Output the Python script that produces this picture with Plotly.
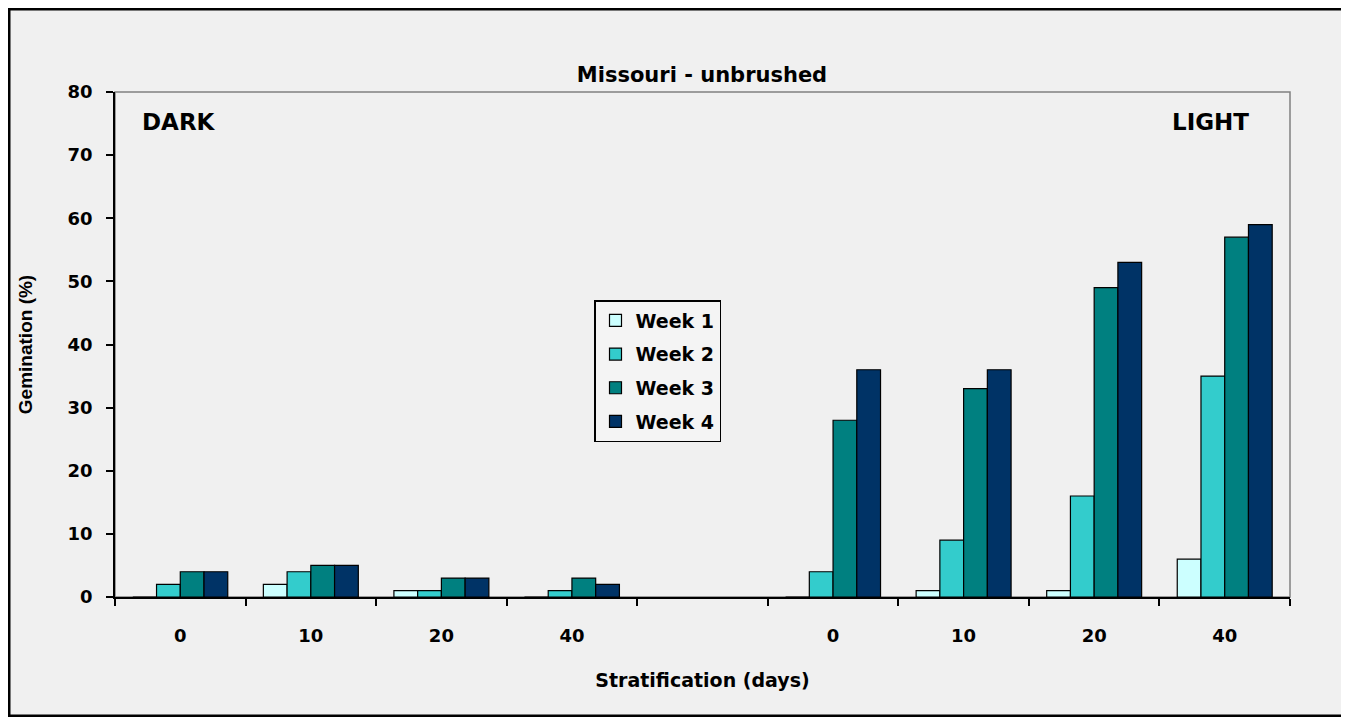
import plotly.graph_objects as go

categories = ["0", "10", "20", "40", "", "0", "10", "20", "40"]
series_names = ["Week 1", "Week 2", "Week 3", "Week 4"]
week1 = [0, 2, 1, 0, None, 0, 1, 1, 6]
week2 = [2, 4, 1, 1, None, 4, 9, 16, 35]
week3 = [4, 5, 3, 3, None, 28, 33, 49, 57]
week4 = [4, 5, 3, 2, None, 36, 36, 53, 59]
colors = ["#CCFFFF", "#33CCCC", "#008080", "#003366"]

# page body has an 8px margin; reference coordinates are shifted by it
OX, OY = 8, 8
W, H = 1337, 709
L, R, T, B = 115 - OX, 1290 - OX, 92 - OY, 597 - OY
pw, ph = R - L, B - T


def px(x):
    return (x - OX - L) / pw


def py(y):
    return (B - (y - OY)) / ph


BG = "#F0F0F0"
FONT = "DejaVu Sans"

xs = list(range(len(categories)))
fig = go.Figure()
for name, vals, col in zip(series_names, [week1, week2, week3, week4], colors):
    fig.add_trace(go.Bar(
        x=xs, y=vals, name=name, legendgroup=name,
        marker=dict(color=col, line=dict(color="#000000", width=1.2)),
    ))

fig.update_layout(
    width=W, height=H,
    margin=dict(l=L, r=W - R, t=T, b=H - B, autoexpand=False),
    paper_bgcolor=BG, plot_bgcolor=BG,
    barmode="group", bargap=0.2727, bargroupgap=0,
    font=dict(family=FONT, size=18, color="#000000", weight="bold"),
    title=dict(text="Missouri - unbrushed", x=px(702), xref="paper", xanchor="center",
               y=1 - (75 - OY) / H, yanchor="middle",
               font=dict(family=FONT, size=21, weight="bold")),
    showlegend=True,
    legend=dict(x=px(594), y=py(300), xanchor="left", yanchor="top",
                bgcolor="#F4F4F4", bordercolor="#000000", borderwidth=1.5,
                traceorder="grouped", tracegroupgap=6,
                font=dict(family=FONT, size=19, weight="bold")),
    xaxis=dict(
        range=[-0.5, len(categories) - 0.5],
        tickmode="array", tickvals=xs, ticktext=categories, ticks="",
        ticklabelstandoff=22,
        minor=dict(tickmode="array", tickvals=[i - 0.5 for i in range(len(categories) + 1)],
                   ticks="outside", ticklen=7, tickcolor="#000000", tickwidth=1.5),
        showline=True, linecolor="#000000", linewidth=1.5,
        showgrid=False, zeroline=False,
        tickfont=dict(family=FONT, size=18, weight="bold"),
        title=dict(text="Stratification (days)", standoff=28,
                   font=dict(family=FONT, size=19, weight="bold")),
    ),
    yaxis=dict(
        range=[0, 80], dtick=10, ticks="outside", ticklen=7, tickwidth=1.5,
        tickcolor="#000000", ticklabelstandoff=10,
        showline=True, linecolor="#000000", linewidth=1.5,
        showgrid=False, zeroline=False,
        tickfont=dict(family=FONT, size=18, weight="bold"),
        title=dict(text="Gemination (%)", standoff=30,
                   font=dict(family="Liberation Sans Narrow, Liberation Sans", size=19, weight="bold")),
    ),
    shapes=[
        dict(type="rect", xref="paper", yref="paper", x0=0, x1=1, y0=0, y1=1,
             line=dict(color="#808080", width=1.5), layer="below"),
        dict(type="rect", xref="paper", yref="paper",
             x0=px(OX + 1), x1=px(OX + W - 1), y0=py(OY + H - 1), y1=py(OY + 1),
             line=dict(color="#000000", width=3)),
    ],
    annotations=[
        dict(text="DARK", xref="paper", yref="paper", x=px(140), y=py(122),
             xanchor="left", yanchor="middle", showarrow=False,
             font=dict(family=FONT, size=23, weight="bold")),
        dict(text="LIGHT", xref="paper", yref="paper", x=px(1251), y=py(122),
             xanchor="right", yanchor="middle", showarrow=False,
             font=dict(family=FONT, size=23, weight="bold")),
    ],
)

fig.write_html("out.html")
